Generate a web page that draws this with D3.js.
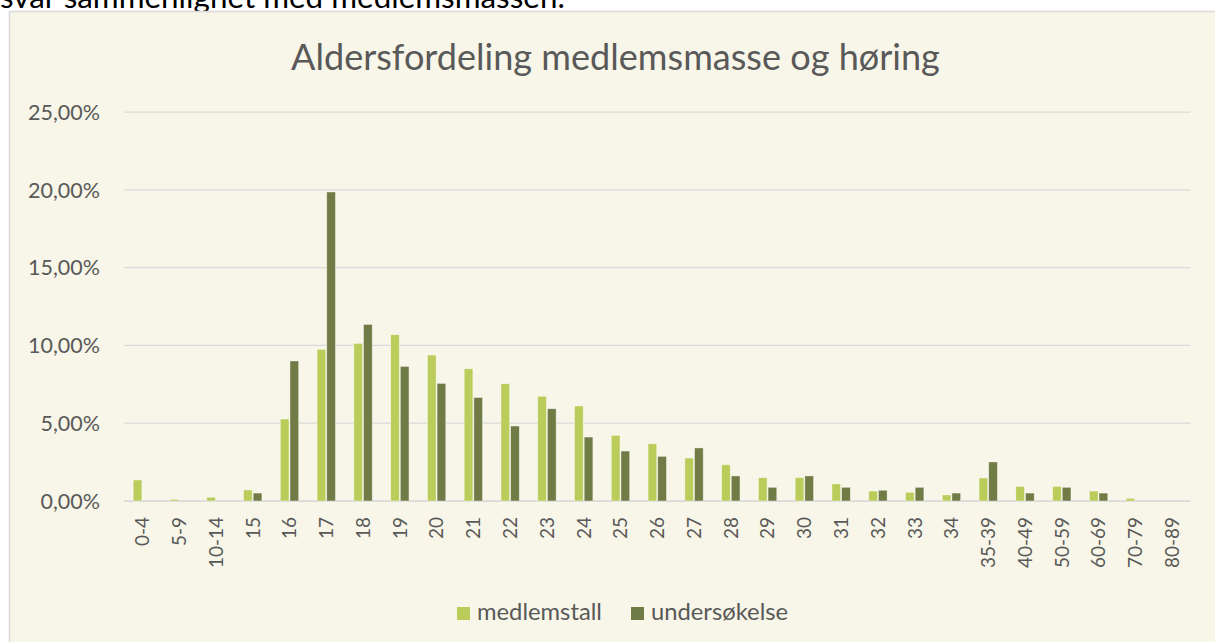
<!DOCTYPE html>
<html>
<head>
<meta charset="utf-8">
<script src="https://cdn.jsdelivr.net/npm/d3@7"></script>
<style>
  body { margin: 0; background: #fff; }
  svg { display: block; font-family: Lato, "Open Sans", sans-serif; }
</style>
</head>
<body>
<div id="chart"></div>
<script>
var width = 1215,
    height = 642;

// age groups on the x axis
var categories = ["0-4", "5-9", "10-14", "15", "16", "17", "18", "19", "20", "21", "22", "23", "24",
  "25", "26", "27", "28", "29", "30", "31", "32", "33", "34", "35-39", "40-49", "50-59", "60-69", "70-79", "80-89"];

// share in percent
var medlemstall = [1.35, 0.11, 0.24, 0.71, 5.27, 9.75, 10.13, 10.69, 9.38, 8.5, 7.54, 6.73, 6.11,
  4.22, 3.68, 2.76, 2.33, 1.5, 1.5, 1.1, 0.64, 0.56, 0.39, 1.48, 0.94, 0.94, 0.64, 0.17, 0];
var undersokelse = [0, 0, 0, 0.51, 9.0, 19.86, 11.35, 8.65, 7.56, 6.65, 4.82, 5.93, 4.11,
  3.21, 2.87, 3.41, 1.61, 0.88, 1.61, 0.88, 0.69, 0.88, 0.51, 2.51, 0.51, 0.88, 0.51, 0, 0];

var seriesNames = ["medlemstall", "undersøkelse"];
var seriesColors = ["#bacd5b", "#707b46"];
var yTicks = [0, 5, 10, 15, 20, 25];

var bg = "#f8f6e8",
    grid = "#d9d9d9",
    textCol = "#595959";

var svg = d3.select("#chart").append("svg")
    .attr("width", width)
    .attr("height", height);

// text above the chart, cut off by the top edge
var intro = svg.append("text")
    .attr("x", 0)
    .attr("y", 8)
    .attr("fill", "#000")
    .style("font-size", "26px")
    .text("svar sammenlignet med medlemsmassen.");
fitWidth(intro, 565);

// chart area frame
svg.append("rect")
    .attr("x", 9.5)
    .attr("y", 11.5)
    .attr("width", 1400)
    .attr("height", 800)
    .attr("fill", bg)
    .attr("stroke", grid)
    .attr("stroke-width", 1.5);

var title = svg.append("text")
    .attr("x", 615.5)
    .attr("y", 70)
    .attr("text-anchor", "middle")
    .attr("fill", textCol)
    .style("font-size", "36px")
    .text("Aldersfordeling medlemsmasse og høring");
fitWidth(title, 649);

var x = d3.scaleBand()
    .domain(categories)
    .range([124, 1190.5]);

var xSub = d3.scaleBand()
    .domain(seriesNames)
    .range([0, x.bandwidth() * 0.5])
    .paddingInner(0.1);

var y = d3.scaleLinear()
    .domain([0, 25])
    .range([501, 112]);

// gridlines
svg.append("g")
  .selectAll("line")
    .data(yTicks)
    .enter()
    .append("line")
    .attr("x1", 124)
    .attr("x2", 1190.5)
    .attr("y1", function(d) { return y(d); })
    .attr("y2", function(d) { return y(d); })
    .attr("stroke", grid)
    .attr("stroke-width", function(d) { return d === 0 ? 1.75 : 1.25; });

// y labels
var fmt = function(d) { return d3.format(".2f")(d).replace(".", ",") + "%"; };
var ySize = sizeFor(fmt(25), 20, 72);
svg.append("g")
  .selectAll("text")
    .data(yTicks)
    .enter()
    .append("text")
    .attr("x", 100)
    .attr("y", function(d) { return y(d); })
    .attr("dy", "0.36em")
    .attr("text-anchor", "end")
    .attr("fill", textCol)
    .style("font-size", ySize + "px")
    .text(fmt);

// bars
var rows = categories.map(function(c, i) {
  return { cat: c, values: [medlemstall[i], undersokelse[i]] };
});

var groups = svg.append("g")
  .selectAll("g")
    .data(rows)
    .enter()
    .append("g")
    .attr("transform", function(d) {
      return "translate(" + (x(d.cat) + x.bandwidth() * 0.25) + ",0)";
    });

groups.selectAll("rect")
    .data(function(d) {
      return d.values.map(function(v, j) { return { name: seriesNames[j], value: v, j: j }; });
    })
    .enter()
    .filter(function(d) { return d.value > 0; })
    .append("rect")
    .attr("x", function(d) { return xSub(d.name); })
    .attr("width", xSub.bandwidth())
    .attr("y", function(d) { return y(d.value); })
    .attr("height", function(d) { return y(0) - y(d.value); })
    .attr("fill", function(d) { return seriesColors[d.j]; })
    .attr("stroke", "#ffffff")
    .attr("stroke-opacity", 0.55)
    .attr("stroke-width", 0.75);

// x labels, rotated
var xSize = sizeFor("10-14", 19, 51);
svg.append("g")
  .selectAll("text")
    .data(categories)
    .enter()
    .append("text")
    .attr("transform", function(d) {
      return "translate(" + (x(d) + x.bandwidth() / 2) + "," + 517 + ") rotate(-90)";
    })
    .attr("dy", "0.36em")
    .attr("text-anchor", "end")
    .attr("fill", textCol)
    .style("font-size", xSize + "px")
    .text(function(d) { return d; });

// legend
var legendX = [457, 631];
var lSize = sizeFor("medlemstall", 21, 125);
var legend = svg.append("g")
  .selectAll("g")
    .data(seriesNames)
    .enter()
    .append("g")
    .attr("transform", function(d, i) { return "translate(" + legendX[i] + ",607)"; });

legend.append("rect")
    .attr("width", 13)
    .attr("height", 13)
    .attr("fill", function(d, i) { return seriesColors[i]; });

legend.append("text")
    .attr("x", 20)
    .attr("y", 13)
    .attr("fill", textCol)
    .style("font-size", lSize + "px")
    .text(function(d) { return d; });

function fitWidth(sel, w) {
  var size = parseFloat(sel.style("font-size"));
  var len = sel.node().getComputedTextLength();
  sel.style("font-size", (size * w / len) + "px");
}

// font size that makes a sample string the given width
function sizeFor(str, size, w) {
  var t = svg.append("text").style("font-size", size + "px").text(str);
  var len = t.node().getComputedTextLength();
  t.remove();
  return size * w / len;
}
</script>
</body>
</html>
